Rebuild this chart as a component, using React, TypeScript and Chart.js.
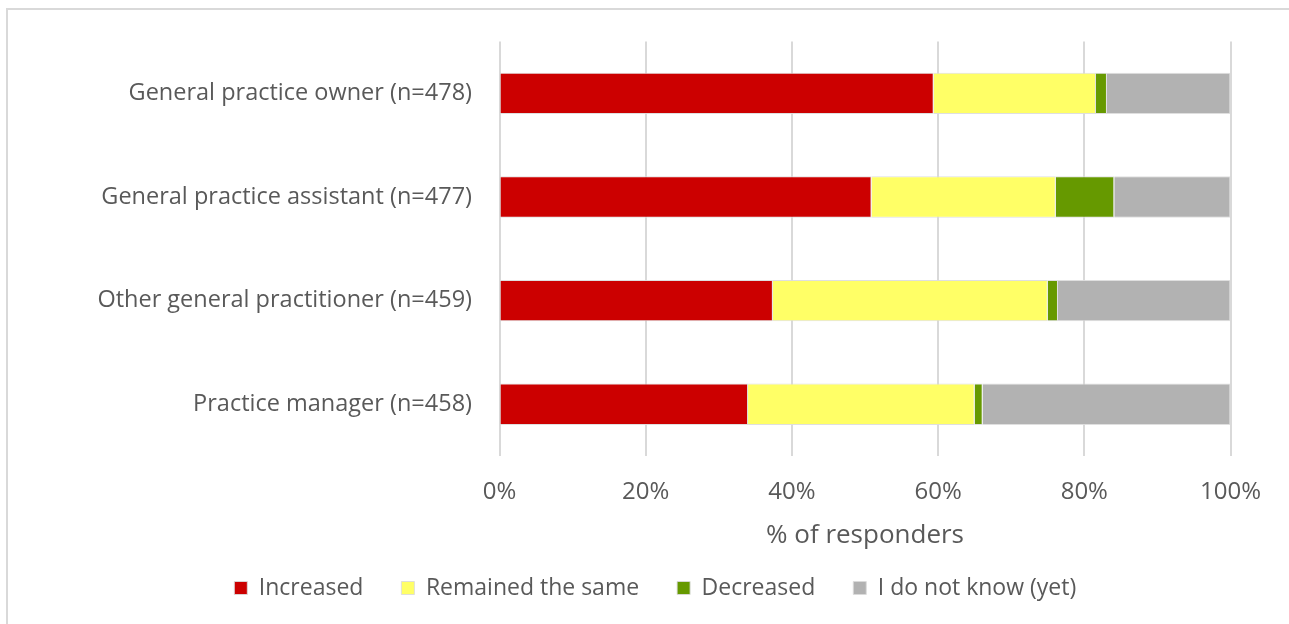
import React, { useEffect, useRef } from "react";
import { Chart, registerables } from "chart.js";

Chart.register(...registerables);

const categories = [
  "General practice owner (n=478)",
  "General practice assistant (n=477)",
  "Other general practitioner (n=459)",
  "Practice manager (n=458)",
];

const increased = [59.4, 50.9, 37.4, 34.0];
const remainedSame = [22.2, 25.2, 37.6, 31.0];
const decreased = [1.5, 8.0, 1.4, 1.1];
const doNotKnow = [16.9, 15.9, 23.6, 33.9];

const xTicks = [0, 20, 40, 60, 80, 100];

const FONT = "'Open Sans', 'Noto Sans', sans-serif";
const TEXT = "#595959";

export default function App() {
  const canvasRef = useRef<HTMLCanvasElement | null>(null);

  useEffect(() => {
    const canvas = canvasRef.current;
    if (!canvas) return;
    const edge = "rgba(220,220,220,0.9)";
    const chart = new Chart(canvas, {
      type: "bar",
      data: {
        labels: categories,
        datasets: [
          { label: "Increased", data: increased, backgroundColor: "#cc0000", borderColor: edge, borderWidth: 1 },
          { label: "Remained the same", data: remainedSame, backgroundColor: "#ffff66", borderColor: edge, borderWidth: 1 },
          { label: "Decreased", data: decreased, backgroundColor: "#669900", borderColor: edge, borderWidth: 1 },
          { label: "I do not know (yet)", data: doNotKnow, backgroundColor: "#b2b2b2", borderColor: edge, borderWidth: 1 },
        ],
      },
      options: {
        indexAxis: "y",
        responsive: false,
        animation: false,
        layout: { padding: { left: 80, right: 58.5, top: 40, bottom: 14.5 } },
        datasets: { bar: { categoryPercentage: 0.8, barPercentage: 0.5 } },
        scales: {
          x: {
            stacked: true,
            min: 0,
            max: 100,
            afterBuildTicks: (scale: any) => {
              scale.ticks = xTicks.map((v) => ({ value: v }));
            },
            afterFit: (scale: any) => {
              scale.height = 82.5;
            },
            grid: { color: "#d9d9d9", lineWidth: 2, drawTicks: false },
            border: { display: false },
            ticks: {
              padding: 21.5,
              color: TEXT,
              font: { family: FONT, size: 24 },
              callback: (v: any) => v + "%",
            },
            title: {
              display: true,
              text: "% of responders",
              color: TEXT,
              font: { family: FONT, size: 26 },
              padding: { top: 19, bottom: -13 },
            },
          },
          y: {
            stacked: true,
            afterFit: (scale: any) => {
              scale.width = 419.5;
            },
            grid: { display: false, drawTicks: false },
            border: { display: false },
            ticks: {
              padding: 27.5,
              color: TEXT,
              font: { family: FONT, size: 23.5 },
            },
          },
        },
        plugins: {
          legend: {
            position: "bottom",
            labels: {
              boxWidth: 13,
              boxHeight: 13,
              padding: 38,
              color: TEXT,
              font: { family: FONT, size: 23 },
            },
          },
          tooltip: { enabled: false },
        },
      },
    });
    return () => chart.destroy();
  }, []);

  return (
    <div
      style={{
        position: "fixed",
        left: 0,
        top: 0,
        width: 1289,
        height: 624,
        overflow: "hidden",
        background: "#ffffff",
      }}
    >
      <div
        style={{
          position: "absolute",
          left: 6,
          top: 8,
          width: 1400,
          height: 700,
          borderTop: "2px solid #d9d9d9",
          borderLeft: "2px solid #d9d9d9",
        }}
      />
      <canvas
        ref={canvasRef}
        width={1289}
        height={624}
        style={{ position: "absolute", left: 0, top: 0 }}
      />
    </div>
  );
}
